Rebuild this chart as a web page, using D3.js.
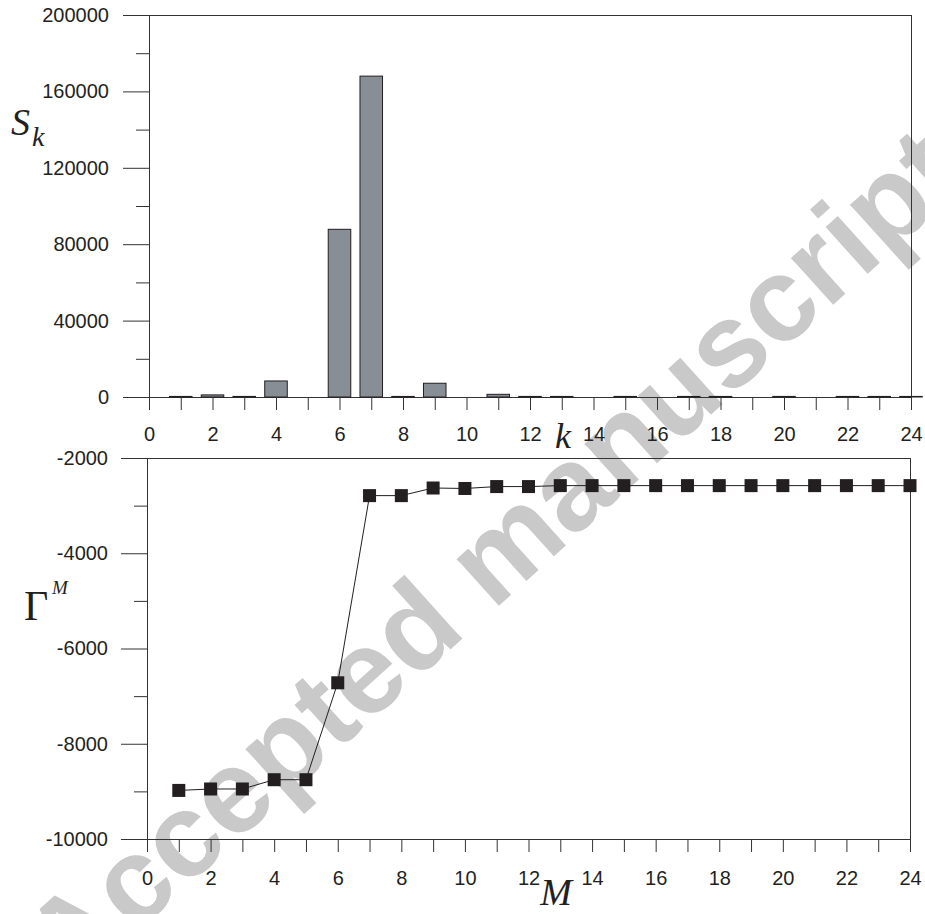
<!DOCTYPE html>
<html>
<head>
<meta charset="utf-8">
<script src="https://cdn.jsdelivr.net/npm/d3@7"></script>
<style>
  html, body { margin: 0; padding: 0; background: #fff; }
  svg { display: block; }
  .tick text { font-family: "Liberation Sans", Arial, sans-serif; font-size: 20px; fill: #231f20; }
</style>
</head>
<body>
<script>
// Upper panel: S_k for k = 1..24
const kValues = d3.range(1, 25);
const sValues = [300, 1100, 300, 8400, 0, 87800, 168000, 300, 7200, 0, 1400, 300,
                 300, 0, 300, 0, 300, 300, 0, 300, 0, 300, 300, 300];
const kTickLabels = [0, 2, 4, 6, 8, 10, 12, 14, 16, 18, 20, 22, 24];
const sMajorTicks = [0, 40000, 80000, 120000, 160000, 200000];
const sMinorTicks = [20000, 60000, 100000, 140000, 180000];

// Lower panel: Gamma^M for M = 1..24
const mValues = d3.range(1, 25);
const gammaValues = [-8980, -8950, -8950, -8755, -8755, -6720, -2790, -2790, -2630, -2640,
                     -2600, -2600, -2580, -2580, -2580, -2580, -2580, -2580, -2580, -2580,
                     -2580, -2580, -2580, -2580];
const mTickLabels = [0, 2, 4, 6, 8, 10, 12, 14, 16, 18, 20, 22, 24];
const gMajorTicks = [-10000, -8000, -6000, -4000, -2000];
const gMinorTicks = [-9000, -7000, -5000, -3000];

const W = 925, H = 914;
const ink = "#231f20";
const axisInk = "#333";

const svg = d3.select("body").append("svg")
  .attr("width", W).attr("height", H)
  .attr("viewBox", `0 0 ${W} ${H}`);

// background stamp text, sits beneath the plots
svg.append("text")
  .attr("transform", "translate(492,556) rotate(-42)")
  .attr("text-anchor", "middle")
  .attr("dominant-baseline", "central")
  .attr("font-family", "'Liberation Sans', Arial, sans-serif")
  .attr("font-weight", "bold")
  .attr("font-size", 119)
  .attr("fill", "#c9c9c9")
  .text("Accepted manuscript");

function styleAxis(g) {
  g.select(".domain").remove();
  g.selectAll(".tick line").attr("stroke", axisInk).attr("stroke-width", 1);
}

function hLine(x1, x2, y) {
  svg.append("line").attr("x1", x1).attr("x2", x2)
    .attr("y1", Math.round(y) + 0.5).attr("y2", Math.round(y) + 0.5)
    .attr("stroke", axisInk).attr("stroke-width", 1);
}
function vLine(x, y1, y2) {
  svg.append("line").attr("x1", Math.round(x) + 0.5).attr("x2", Math.round(x) + 0.5)
    .attr("y1", y1).attr("y2", y2)
    .attr("stroke", axisInk).attr("stroke-width", 1);
}

// ---------- upper panel ----------
const x1 = d3.scaleLinear().domain([0, 24]).range([149, 911]);
const y1 = d3.scaleLinear().domain([0, 200000]).range([397, 15]);

// frame
hLine(x1(0), x1(24), y1(200000));
hLine(x1(0), x1(24), y1(0));
vLine(x1(0), y1(200000), y1(0));
vLine(x1(24), y1(200000), y1(0));

// y axis: labelled major ticks and short minor ticks
svg.append("g").attr("transform", `translate(${x1(0)},0)`)
  .call(d3.axisLeft(y1).tickValues(sMajorTicks).tickSize(26).tickPadding(14)
    .tickFormat(d => String(d)))
  .call(styleAxis);
svg.append("g").attr("transform", `translate(${x1(0)},0)`)
  .call(d3.axisLeft(y1).tickValues(sMinorTicks).tickSize(13).tickFormat(""))
  .call(styleAxis);

// bars
const barW = (x1(1) - x1(0)) * 0.71;
svg.append("g").selectAll("rect")
  .data(kValues.map((k, i) => ({ k, v: sValues[i] })).filter(d => d.v > 0))
  .join("rect")
  .attr("x", d => x1(d.k) - barW / 2)
  .attr("width", barW)
  .attr("y", d => y1(d.v))
  .attr("height", d => y1(0) - y1(d.v))
  .attr("fill", "#878e96")
  .attr("stroke", ink)
  .attr("stroke-width", 1);

// x axis ticks at every integer, labels on even values
svg.append("g").attr("transform", `translate(0,${y1(0)})`)
  .call(d3.axisBottom(x1).tickValues(d3.range(0, 25)).tickSize(13).tickPadding(17)
    .tickFormat(d => kTickLabels.includes(d) ? String(d) : ""))
  .call(styleAxis);

// axis titles
const serif = "'Liberation Serif', 'Times New Roman', serif";
svg.append("text").attr("x", 11).attr("y", 135)
  .attr("font-family", serif).attr("font-style", "italic").attr("font-size", 38)
  .attr("fill", ink).text("S");
svg.append("text").attr("x", 32).attr("y", 146)
  .attr("font-family", serif).attr("font-style", "italic").attr("font-size", 28)
  .attr("fill", ink).text("k");
svg.append("text").attr("x", 563).attr("y", 448).attr("text-anchor", "middle")
  .attr("font-family", serif).attr("font-style", "italic").attr("font-size", 36)
  .attr("fill", ink).text("k");

// ---------- lower panel ----------
const x2 = d3.scaleLinear().domain([0, 24]).range([147, 910]);
const y2 = d3.scaleLinear().domain([-10000, -2000]).range([839, 458]);

hLine(x2(0), x2(24), y2(-2000));
hLine(x2(0), x2(24), y2(-10000));
vLine(x2(0), y2(-2000), y2(-10000));
vLine(x2(24), y2(-2000), y2(-10000));

svg.append("g").attr("transform", `translate(${x2(0)},0)`)
  .call(d3.axisLeft(y2).tickValues(gMajorTicks).tickSize(26).tickPadding(13)
    .tickFormat(d => String(d)))
  .call(styleAxis);
svg.append("g").attr("transform", `translate(${x2(0)},0)`)
  .call(d3.axisLeft(y2).tickValues(gMinorTicks).tickSize(13).tickFormat(""))
  .call(styleAxis);

svg.append("g").attr("transform", `translate(0,${y2(-10000)})`)
  .call(d3.axisBottom(x2).tickValues(d3.range(0, 25)).tickSize(13).tickPadding(19)
    .tickFormat(d => mTickLabels.includes(d) ? String(d) : ""))
  .call(styleAxis);

// line with square markers
const pts = mValues.map((m, i) => ({ m, v: gammaValues[i] }));
svg.append("path")
  .datum(pts)
  .attr("fill", "none")
  .attr("stroke", ink)
  .attr("stroke-width", 1)
  .attr("d", d3.line().x(d => x2(d.m)).y(d => y2(d.v)));

const sq = 13;
svg.append("g").selectAll("rect")
  .data(pts)
  .join("rect")
  .attr("x", d => x2(d.m) - sq / 2)
  .attr("y", d => y2(d.v) - sq / 2)
  .attr("width", sq).attr("height", sq)
  .attr("fill", ink);

// titles
svg.append("text").attr("x", 24).attr("y", 620)
  .attr("font-family", serif).attr("font-size", 42)
  .attr("fill", ink).text("Γ");
svg.append("text").attr("x", 52).attr("y", 594)
  .attr("font-family", serif).attr("font-style", "italic").attr("font-size", 19)
  .attr("fill", ink).text("M");
svg.append("text").attr("x", 556).attr("y", 905).attr("text-anchor", "middle")
  .attr("font-family", serif).attr("font-style", "italic").attr("font-size", 38)
  .attr("fill", ink).text("M");
</script>
</body>
</html>
